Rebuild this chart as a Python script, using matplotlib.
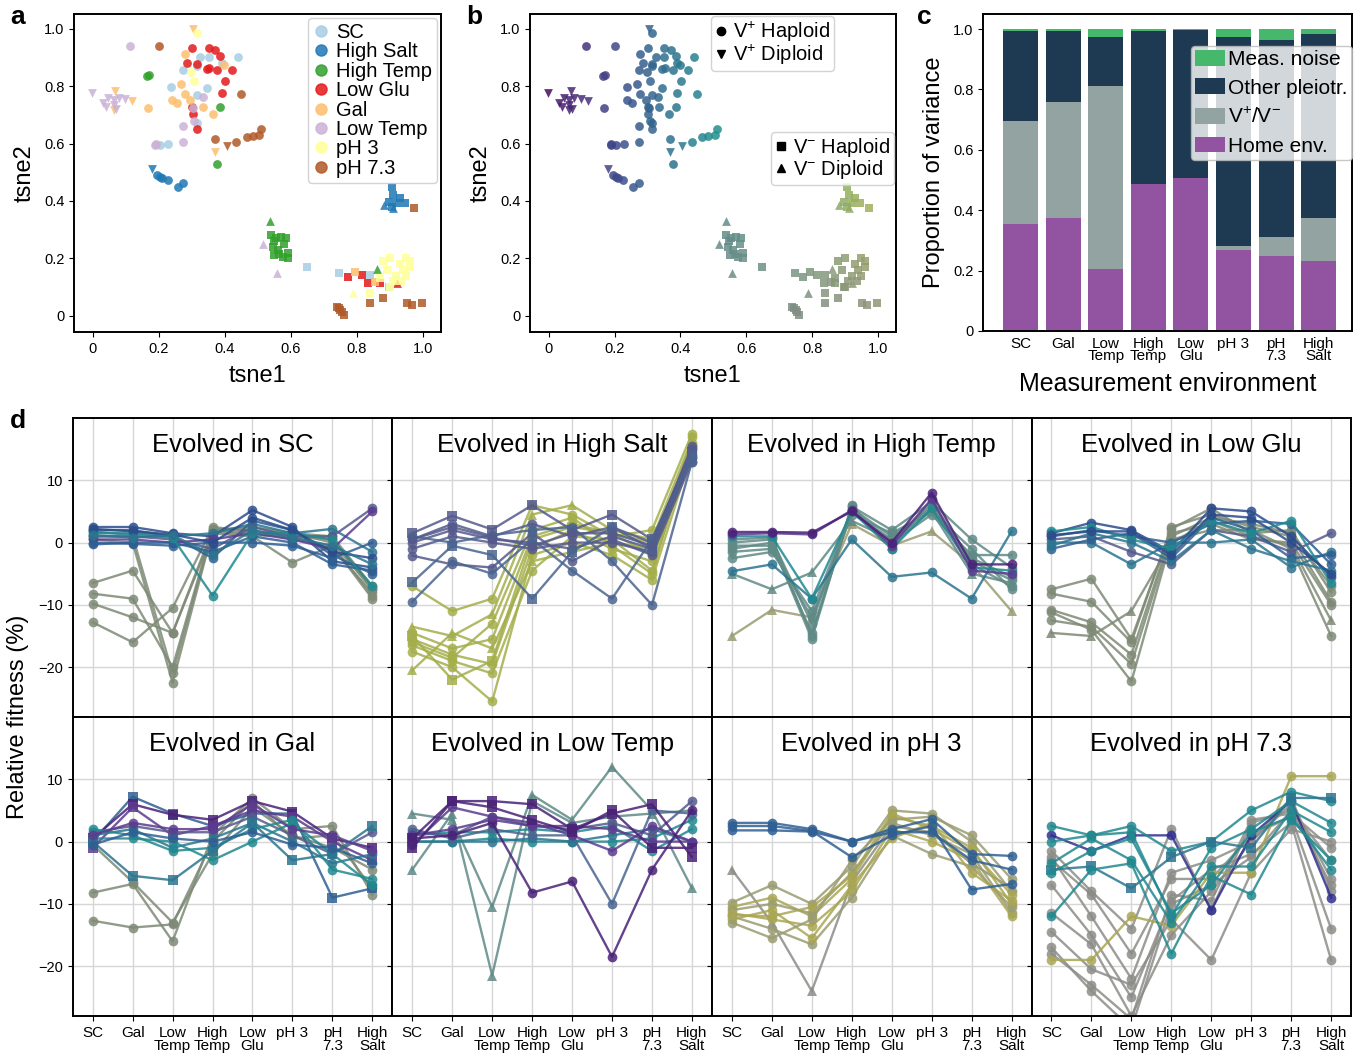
import numpy as np
import matplotlib
matplotlib.use('Agg')
import matplotlib.pyplot as plt
from matplotlib.lines import Line2D

plt.rcParams['font.family'] = ['Liberation Sans', 'DejaVu Sans']
plt.rcParams['mathtext.fontset'] = 'custom'
plt.rcParams['mathtext.rm'] = 'Liberation Sans'
plt.rcParams['mathtext.it'] = 'Liberation Sans:italic'
plt.rcParams['axes.linewidth'] = 1.4
plt.rcParams['xtick.labelsize'] = 10.5
plt.rcParams['ytick.labelsize'] = 10.5

# ---- t-SNE embedding (panels a, b) ----
# kind: A = V+ haploid, B = V+ diploid, C = V- haploid, D = V- diploid
env_names = ['SC', 'High Salt', 'High Temp', 'Low Glu', 'Gal', 'Low Temp', 'pH 3', 'pH 7.3']

sc_t1 = [0.441, 0.325, 0.351, 0.273, 0.237, 0.315, 0.345, 0.204, 0.229, 0.315, 0.315, 0.39,
         0.648, 0.747, 0.840, 0.897]
sc_t2 = [0.903, 0.901, 0.903, 0.857, 0.797, 0.770, 0.793, 0.595, 0.598, 0.671, 0.870, 0.88,
         0.171, 0.150, 0.142, 0.101]
sc_kind = 'AAAAAAAAAAAACCCC'

salt_t1 = [0.194, 0.205, 0.227, 0.257, 0.273, 0.21, 0.18,
           0.906, 0.911, 0.896, 0.921, 0.946, 0.906, 0.93, 0.881, 0.911]
salt_t2 = [0.491, 0.485, 0.473, 0.45, 0.464, 0.48, 0.51,
           0.45, 0.421, 0.398, 0.392, 0.392, 0.38, 0.41, 0.386, 0.374]
salt_kind = 'AAAAAABCCCCCCCDD'

htemp_t1 = [0.164, 0.170, 0.386, 0.376,
            0.54, 0.555, 0.57, 0.585, 0.545, 0.56, 0.58, 0.59, 0.55, 0.575, 0.59, 0.565, 0.548,
            0.537, 0.861]
htemp_t2 = [0.837, 0.840, 0.726, 0.528,
            0.28, 0.27, 0.275, 0.27, 0.24, 0.23, 0.25, 0.22, 0.21, 0.205, 0.2, 0.215, 0.26,
            0.331, 0.162]
htemp_kind = 'AAAACCCCCCCCCCCCCDD'

lglu_t1 = [0.3, 0.351, 0.371, 0.386, 0.285, 0.315, 0.345, 0.376, 0.423, 0.402, 0.391, 0.3,
           0.303, 0.315, 0.352, 0.773, 0.815, 0.835, 0.871, 0.921]
lglu_t2 = [0.933, 0.933, 0.927, 0.906, 0.88, 0.878, 0.86, 0.855, 0.855, 0.819, 0.776, 0.729,
           0.703, 0.65, 0.864, 0.134, 0.142, 0.113, 0.115, 0.113]
lglu_kind = 'AAAAAAAAAAAAAAACCCCD'

gal_t1 = [0.278, 0.398, 0.268, 0.278, 0.239, 0.254, 0.295, 0.335, 0.364, 0.167,
          0.305, 0.068, 0.063, 0.118, 0.369, 0.795, 0.856]
gal_t2 = [0.913, 0.874, 0.807, 0.772, 0.752, 0.741, 0.752, 0.729, 0.703, 0.723,
          1.0, 0.785, 0.717, 0.747, 0.572, 0.151, 0.119]
gal_kind = 'AAAAAAAAAABBBBBCC'

ltemp_t1 = [0.113, 0.333, 0.273, 0.305, 0.308, 0.273, 0.188, 0.19,
            -0.003, 0.032, 0.047, 0.063, 0.078, 0.098, 0.04, 0.063, 0.07, 0.517, 0.558]
ltemp_t2 = [0.942, 0.764, 0.662, 0.723, 0.680, 0.607, 0.595, 0.60,
            0.776, 0.741, 0.758, 0.752, 0.758, 0.755, 0.729, 0.735, 0.72, 0.249, 0.15]
ltemp_kind = 'AAAAAAAABBBBBBBBBDD'

ph3_t1 = [0.315, 0.298, 0.308,
          0.88, 0.9, 0.93, 0.95, 0.96, 0.89, 0.92, 0.94, 0.95, 0.91, 0.935, 0.96, 0.84, 0.9, 0.87,
          0.787]
ph3_t2 = [0.985, 0.851, 0.819,
          0.19, 0.2, 0.18, 0.2, 0.19, 0.16, 0.14, 0.16, 0.14, 0.12, 0.12, 0.17, 0.08, 0.1, 0.13,
          0.078]
ph3_kind = 'AAACCCCCCCCCCCCCCCD'

ph73_t1 = [0.202, 0.449, 0.369, 0.434, 0.467, 0.485, 0.505, 0.51, 0.406,
           0.972, 0.739, 0.75, 0.76, 0.755, 0.84, 0.879, 0.952, 0.967, 0.997, 0.745]
ph73_t2 = [0.941, 0.773, 0.615, 0.605, 0.624, 0.626, 0.63, 0.65, 0.59,
           0.374, 0.031, 0.02, 0.002, 0.012, 0.043, 0.06, 0.045, 0.037, 0.043, 0.025]
ph73_kind = 'AAAAAAAABCCCCCCCCCCC'

tsne_sets = [(sc_t1, sc_t2, sc_kind), (salt_t1, salt_t2, salt_kind),
             (htemp_t1, htemp_t2, htemp_kind), (lglu_t1, lglu_t2, lglu_kind),
             (gal_t1, gal_t2, gal_kind), (ltemp_t1, ltemp_t2, ltemp_kind),
             (ph3_t1, ph3_t2, ph3_kind), (ph73_t1, ph73_t2, ph73_kind)]

env_colors = ['#a6cee3', '#1f78b4', '#33a02c', '#e31a1c', '#fdbf6f', '#cab2d6', '#ffff99', '#b15928']
kind_marker = {'A': 'o', 'B': 'v', 'C': 's', 'D': '^'}

# ---- variance partition (panel c) ----
meas_envs = ['SC', 'Gal', 'Low\nTemp', 'High\nTemp', 'Low\nGlu', 'pH 3', 'pH\n7.3', 'High\nSalt']
var_home = [0.355, 0.373, 0.205, 0.487, 0.507, 0.268, 0.250, 0.232]
var_vpm = [0.340, 0.387, 0.605, 0.0, 0.0, 0.015, 0.060, 0.141]
var_other = [0.298, 0.233, 0.165, 0.506, 0.491, 0.692, 0.653, 0.610]
var_noise = [0.007, 0.007, 0.025, 0.007, 0.002, 0.025, 0.037, 0.017]

# ---- relative fitness across measurement environments (panel d) ----
evo_sc = [[-6.5, -4.5, -14.5, 2.0, 1.5, 1.0, -1.0, -8.0],
          [-8.2, -9.0, -20.0, 2.2, 2.0, 0.5, -0.5, -8.5],
          [-9.8, -12.0, -14.5, 1.5, 1.0, -3.2, -0.5, -9.0],
          [-12.8, -16.0, -10.5, 2.5, 1.8, 1.5, 0.0, -7.5],
          [0.5, 0.0, -22.5, 1.8, 1.2, 1.0, 0.5, -7.5],
          [1.0, 1.0, -21.0, 2.0, 2.5, 1.5, 1.0, -7.0],
          [2.5, 2.5, 1.5, 1.0, 5.2, 2.5, -3.0, -4.0],
          [2.0, 2.0, 1.0, -2.5, 3.5, 2.0, -2.0, -5.0],
          [1.5, 1.5, 1.0, 1.5, 3.0, 1.5, 2.2, -1.5],
          [1.0, 1.0, 0.5, -1.0, 2.5, 1.0, 1.0, 5.5],
          [0.5, 0.5, 0.0, 0.5, 1.5, 0.5, -1.0, 5.0],
          [-0.3, 0.0, 0.0, -1.5, 1.0, 0.0, -3.5, -4.5],
          [0.0, -0.2, -0.5, 0.0, 0.0, -0.5, -2.5, 0.0],
          [1.8, 1.2, 0.8, -8.5, 1.5, 1.5, 0.5, -7.0],
          [2.2, 1.8, 1.3, 0.0, 4.0, 2.0, -1.5, -2.5],
          [1.2, 0.8, 1.2, -2.0, 2.0, 0.8, -0.5, -3.5]]
evo_sc_col = ['gg', 'gg', 'gg', 'gg', 'gg', 'gg', 'db', 'bl', 'tb', 'sl', 'pv', 'bl', 'bl', 'te', 'db', 'tb']
evo_sc_mk = 'oooooooooooooooo'

evo_salt = [[-7.0, -11.0, -9.0, 6.0, 4.5, 1.0, 2.0, 17.5],
            [-13.5, -15.0, -11.5, 4.5, 6.0, 2.0, 0.5, 16.5],
            [-14.5, -17.0, -15.5, 1.0, 3.0, 1.5, -2.0, 16.0],
            [-15.5, -18.0, -19.5, -1.0, 2.0, -1.0, -3.0, 15.0],
            [-16.5, -19.0, -21.0, -4.5, 1.0, 0.5, -4.5, 15.5],
            [-17.5, -20.0, -25.5, -2.0, 0.0, -2.0, -6.0, 14.5],
            [-20.5, -14.5, -17.0, -3.0, -1.5, 0.0, -1.0, 16.0],
            [-15.0, -22.0, -19.0, 0.5, 2.5, 1.5, 0.0, 15.0],
            [-16.0, -18.5, -13.0, 2.0, 4.0, -0.5, -5.0, 17.0],
            [1.5, 4.3, 2.1, 6.0, 2.0, 4.5, 0.5, 14.5],
            [0.5, 3.0, 1.0, 3.0, 1.0, 2.5, 0.0, 15.0],
            [0.0, 2.0, 0.5, 0.0, -1.0, 1.0, -1.0, 13.5],
            [-1.0, 1.0, 0.0, -1.0, 0.0, 0.0, -1.5, 14.0],
            [-2.1, -3.5, -4.0, 1.5, -3.0, 0.5, -2.0, 13.0],
            [-6.4, -0.5, -2.0, -9.0, -1.5, 2.5, -1.0, 14.5],
            [-9.5, -3.0, -5.0, 0.5, -4.5, -9.0, 0.5, 13.8],
            [1.0, 0.0, 1.2, 2.0, 2.5, -3.0, -10.0, 13.0],
            [0.5, 2.5, 0.8, -0.5, 1.5, 1.5, -0.5, 15.5]]
evo_salt_col = ['ol'] * 9 + ['sl', 'sl', 'sl', 'sl', 'sl', 'bs', 'bs', 'bs', 'sl']
evo_salt_mk = 'o^oooo^sosoooosooo'

evo_htemp = [[-15.0, -10.8, -12.0, 3.0, -0.5, 1.8, -3.5, -11.0],
             [-5.0, -7.5, -4.8, 3.5, 0.5, 5.0, -5.0, -6.5],
             [0.0, 0.5, -13.0, 5.5, 1.0, 5.5, -2.5, -5.5],
             [-0.5, -0.5, -14.5, 5.0, 0.5, 6.0, -3.0, -6.0],
             [-1.0, 0.0, -15.5, 5.8, 2.0, 6.5, 0.5, -4.0],
             [-1.5, -1.0, -12.0, 4.5, 1.5, 5.0, -1.0, -7.5],
             [-2.5, -1.5, -11.0, 5.2, 0.0, 4.5, -2.0, -2.0],
             [0.5, 0.8, -15.0, 6.0, -1.0, 6.8, -3.5, -7.0],
             [-4.6, -3.5, -9.0, 0.5, -5.5, -4.8, -9.0, 1.8],
             [1.0, 1.0, -9.0, 5.0, -1.0, 5.5, -4.0, -4.5],
             [1.3, 1.5, 1.3, 5.2, -0.5, 7.0, -4.5, -5.0],
             [1.7, 1.7, 1.6, 5.0, 0.0, 8.0, -3.5, -3.5]]
evo_htemp_col = ['og', 'gt', 'gt', 'gt', 'gt', 'gt', 'gt', 'gt', 'tb', 'te', 'pv', 'pu']
evo_htemp_mk = '^^oooooooooo'

evo_lglu = [[-7.5, -5.8, -15.5, 2.2, 5.5, 1.5, 2.0, -8.0],
            [-8.2, -9.5, -16.0, 2.5, 4.5, 2.5, 1.0, -9.5],
            [-10.8, -12.8, -18.0, 1.5, 3.0, 0.5, 0.0, -10.0],
            [-11.2, -14.0, -22.3, 0.5, 2.0, 2.0, -1.0, -15.0],
            [-14.5, -15.0, -11.0, 0.0, 3.5, 1.0, -0.5, -12.5],
            [-12.5, -13.5, -19.5, 1.0, 4.0, 3.0, 1.5, -7.0],
            [1.5, 3.2, 2.0, -1.5, 5.5, 5.0, 1.0, -5.5],
            [1.0, 2.0, 1.0, 0.0, 3.0, 3.5, 3.0, -3.5],
            [0.5, 1.0, -1.5, -3.5, 2.0, 1.0, -1.5, 1.5],
            [0.0, 0.0, -3.5, 0.0, 0.0, 0.5, -4.0, -1.5],
            [-1.0, 0.5, 1.5, -2.5, 4.0, 2.0, -2.5, -2.0],
            [1.8, 2.5, 0.5, -1.0, 3.5, 1.5, 3.5, -6.5],
            [-0.5, 1.5, 0.0, -3.0, 2.0, -1.0, -3.0, -4.5],
            [1.2, 1.8, 1.8, -2.0, 4.5, 4.0, 0.0, -5.0]]
evo_lglu_col = ['gg'] * 6 + ['db', 'bl', 'sl', 'tb', 'bl', 'te', 'tb', 'db']
evo_lglu_mk = 'oooo^ooooooooo'

evo_gal = [[-8.2, -6.8, -16.0, 1.0, 7.0, 2.0, 2.5, -8.5],
           [-12.7, -13.8, -13.3, 0.0, 6.5, 0.5, 1.0, -7.5],
           [-0.5, -6.5, -13.0, -2.0, 5.5, 1.0, -1.0, -4.5],
           [0.0, 7.2, 4.5, 2.5, 4.5, 4.5, -9.0, -7.5],
           [0.5, 6.0, 4.3, 3.5, 6.5, 4.8, 0.5, -1.0],
           [-1.0, 5.5, 1.0, 2.5, 5.0, 4.0, 0.0, -3.0],
           [1.5, 2.5, 1.5, 1.5, 4.0, 1.0, -2.0, 1.5],
           [1.0, 2.0, -1.0, 0.5, 3.0, 0.0, -3.5, -2.0],
           [2.0, 1.0, -1.5, -1.0, 2.0, 3.5, -4.5, -6.0],
           [0.5, 0.5, 0.0, -3.0, 0.0, 3.0, -2.0, -7.0],
           [0.0, -5.5, -6.2, -1.5, 3.0, -3.0, -2.0, 2.5],
           [-0.5, 1.5, 0.5, 0.0, 1.5, -0.5, -1.0, -3.5],
           [1.0, 3.0, 2.0, 2.0, 6.0, 2.0, 1.0, -1.5]]
evo_gal_col = ['gg', 'gg', 'gg', 'bl', 'pu', 'pv', 'sl', 'tb', 'te', 'te', 'tb', 'bl', 'pv']
evo_gal_mk = 'ooosssoooosoo'

evo_ltemp = [[4.5, 3.5, -10.5, 7.5, 3.5, 12.0, 5.0, -7.5],
             [-4.5, 4.5, -21.5, 6.5, 3.0, 4.0, 4.5, 5.0],
             [0.0, 0.0, 0.5, 0.0, 0.0, 0.0, 0.5, 3.5],
             [1.0, 1.5, 1.5, 2.0, 1.5, 2.5, -1.5, 2.0],
             [0.0, 0.0, 0.0, 0.5, 0.0, 1.0, 2.0, 0.0],
             [1.5, 1.0, 4.0, 2.5, 2.0, 3.0, 1.0, 6.5],
             [2.0, 0.5, 2.0, 1.0, 1.0, -10.0, 5.0, 4.5],
             [1.0, 2.0, 3.5, 2.5, 2.5, 2.0, 0.0, 0.0],
             [0.5, 1.0, 3.0, -8.2, -6.4, -18.5, -4.5, 5.0],
             [-0.5, 5.5, 4.0, 3.0, 1.0, -1.5, 2.5, 0.0],
             [0.5, 6.5, 5.5, 3.5, 1.5, 5.0, -1.0, -1.0],
             [-1.0, 6.5, 6.5, 6.0, 2.0, 4.5, 6.0, -2.5]]
evo_ltemp_col = ['gt', 'gt', 'te', 'te', 'tb', 'sl', 'bs', 'pv', 'pu', 'pv', 'pu', 'pu']
evo_ltemp_mk = '^^ooooooooss'

evo_ph3 = [[-4.5, -13.0, -24.0, -6.5, 2.5, 1.5, -3.5, -7.5],
           [-9.8, -7.0, -10.0, -4.0, 5.0, 4.5, 0.0, -8.0],
           [-10.5, -9.0, -12.0, -6.0, 4.0, 2.5, -1.0, -10.0],
           [-11.0, -10.0, -11.5, -5.0, 3.0, 1.0, -2.0, -11.5],
           [-11.5, -12.5, -13.5, -8.0, 2.0, 0.0, -3.0, -12.0],
           [-12.0, -14.0, -16.5, -9.0, 1.0, -2.0, -4.0, -10.5],
           [-12.5, -11.0, -15.5, -7.0, 0.5, 3.0, -5.0, -9.5],
           [-13.0, -15.5, -12.5, -3.0, 3.5, 4.0, 1.0, -6.0],
           [-11.8, -12.0, -10.5, -5.5, 4.5, 2.0, -1.5, -8.5],
           [3.0, 3.0, 2.0, 0.0, 2.0, 3.6, -2.0, -2.3],
           [2.5, 2.5, 1.7, -2.5, 1.0, 2.5, -7.7, -6.8],
           [1.8, 1.8, 1.6, 0.0, 1.5, 1.5, -3.0, -4.5]]
evo_ph3_col = ['gr', 'og', 'oy', 'og', 'oy', 'og', 'oy', 'og', 'oy', 'bl', 'bl', 'bl']
evo_ph3_mk = '^ooooooooooo'

evo_ph73 = [[-1.5, -8.0, -14.0, 2.0, -11.0, 3.0, 5.0, -7.0],
            [-3.0, -8.5, -18.0, -6.0, -6.0, 1.0, 4.0, -14.0],
            [-7.0, -15.0, -25.0, -9.5, -4.5, -2.0, 3.0, -19.0],
            [-11.5, -16.5, -28.0, -15.0, -8.0, 0.0, 6.0, -6.0],
            [-14.5, -20.5, -23.0, -12.5, -19.0, -5.0, 2.0, 0.0],
            [-17.0, -24.0, -30.0, -10.0, -7.0, -2.5, 5.0, -3.0],
            [-18.0, -23.0, -28.5, -8.5, -9.5, 3.5, 4.5, -1.0],
            [-2.5, -12.0, -22.0, -5.0, -3.0, 0.0, 7.0, -8.0],
            [-19.0, -19.0, -12.0, -13.5, -5.0, -5.0, 10.5, 10.5],
            [1.0, -1.5, 1.0, 1.0, -11.0, 1.0, 6.5, -9.0],
            [2.5, 1.0, 2.5, -1.5, 0.0, 5.0, 8.0, 6.5],
            [0.0, 1.0, 1.5, -12.0, -1.0, 2.0, 6.5, 3.0],
            [-4.5, -4.0, -7.5, -2.5, 0.0, -1.0, 7.0, 7.0],
            [-12.0, -4.5, -3.5, -18.0, -5.5, -8.5, 3.5, -3.0],
            [-3.5, 0.5, -3.0, -13.0, -4.0, -4.0, 5.0, 1.5],
            [-5.0, -1.5, 0.5, -11.5, -7.0, 1.5, 4.0, -4.5]]
evo_ph73_col = ['gr'] * 8 + ['oy', 'nv', 'te', 'te', 'tb', 'te', 'te', 'te']
evo_ph73_mk = 'oooooooooooosooo'

palette = {'pu': '#4a2278', 'pv': '#5b3c8f', 'sl': '#555a8c', 'bs': '#4a6590',
           'bl': '#2f5f93', 'db': '#2b4c8c', 'tb': '#2d7590', 'te': '#21898f',
           'gt': '#5f8a86', 'gg': '#7e8a76', 'ol': '#a4ae4a', 'oy': '#a9a654',
           'og': '#9a9c72', 'gr': '#8c8c88', 'nv': '#302f90'}

# ---------------------------------------------------------------
W, H = 1358, 1055
fig = plt.figure(figsize=(W / 100, H / 100), dpi=100)


def px_axes(left, top, right, bottom):
    return fig.add_axes([left / W, 1 - bottom / H, (right - left) / W, (bottom - top) / H])


def unit_fmt(v, _):
    return '0' if abs(v) < 1e-9 else '%.1f' % v


def tsne_axes(ax):
    ax.set_xlim(-0.057, 1.055)
    ax.set_ylim(-0.057, 1.052)
    ticks = [0, 0.2, 0.4, 0.6, 0.8, 1.0]
    ax.set_xticks(ticks)
    ax.set_yticks(ticks)
    ax.xaxis.set_major_formatter(plt.FuncFormatter(unit_fmt))
    ax.yaxis.set_major_formatter(plt.FuncFormatter(unit_fmt))
    ax.set_xlabel('tsne1', fontsize=17, labelpad=7)
    ax.set_ylabel('tsne2', fontsize=17, labelpad=6)


# panel a: coloured by environment
ax_a = px_axes(74, 14, 441, 332)
for (t1, t2, kinds), col in zip(tsne_sets, env_colors):
    t1, t2, kinds = np.array(t1), np.array(t2), np.array(list(kinds))
    for k, m in kind_marker.items():
        sel = kinds == k
        if sel.any():
            ax_a.scatter(t1[sel], t2[sel], s=40, marker=m, color=col, alpha=0.85, lw=0)
tsne_axes(ax_a)
handles = [Line2D([], [], ls='', marker='o', ms=8, color=c, alpha=0.85) for c in env_colors]
ax_a.legend(handles, env_names, loc='upper right', fontsize=14.5, handlelength=0.8,
            handletextpad=0.35, labelspacing=0.02, borderpad=0.25, borderaxespad=0.2,
            framealpha=0.85, edgecolor='#cccccc')


# panel b: coloured along the embedding, greyed for V- lineages
def embed_color(x, y, kind):
    base = np.array(plt.cm.viridis(np.clip(0.04 + 0.9 * x, 0, 1))[:3])
    if kind in 'AB':
        return base
    w = np.clip(0.9 - 0.9 * y, 0.45, 0.95)
    return (1 - w) * base + w * np.array([0.53, 0.53, 0.53])


ax_b = px_axes(530, 14, 896, 332)
for t1, t2, kinds in tsne_sets:
    for x, y, k in zip(t1, t2, kinds):
        ax_b.scatter([x], [y], s=40, marker=kind_marker[k], color=[embed_color(x, y, k)],
                     alpha=0.85, lw=0)
tsne_axes(ax_b)
h_plus = [Line2D([], [], ls='', marker='o', ms=6, color='k'),
          Line2D([], [], ls='', marker='v', ms=6, color='k')]
leg1 = ax_b.legend(h_plus, ['V$^{+}$ Haploid', 'V$^{+}$ Diploid'], loc='upper right',
                   bbox_to_anchor=(0.83, 0.995), fontsize=14.5, handlelength=0.6,
                   handletextpad=0.3, labelspacing=-0.05, borderpad=0.2, borderaxespad=0,
                   framealpha=0.85, edgecolor='#cccccc')
ax_b.add_artist(leg1)
h_minus = [Line2D([], [], ls='', marker='s', ms=6, color='k'),
           Line2D([], [], ls='', marker='^', ms=6, color='k')]
ax_b.legend(h_minus, ['V$^{-}$ Haploid', 'V$^{-}$ Diploid'], loc='upper right',
            bbox_to_anchor=(0.995, 0.63), fontsize=14.5, handlelength=0.6,
            handletextpad=0.3, labelspacing=-0.05, borderpad=0.2, borderaxespad=0,
            framealpha=0.85, edgecolor='#cccccc')

# panel c: stacked variance components
ax_c = px_axes(983, 14, 1352, 331)
xc = np.arange(len(meas_envs))
comp = [(var_home, '#9253a1', 'Home env.'), (var_vpm, '#93a3a2', 'V$^{+}$/V$^{-}$'),
        (var_other, '#1e3a52', 'Other pleiotr.'), (var_noise, '#45b86b', 'Meas. noise')]
bottom = np.zeros(len(meas_envs))
bars = []
for vals, col, lab in comp:
    b = ax_c.bar(xc, vals, bottom=bottom, width=0.82, color=col, label=lab)
    bars.append(b)
    bottom += np.array(vals)
ax_c.set_xlim(-0.88, 7.78)
ax_c.set_ylim(0, 1.05)
ax_c.set_yticks([0, 0.2, 0.4, 0.6, 0.8, 1.0])
ax_c.yaxis.set_major_formatter(plt.FuncFormatter(unit_fmt))
ax_c.set_xticks(xc)
ax_c.set_xticklabels(meas_envs, linespacing=0.9, fontsize=11)
ax_c.tick_params(axis='x', length=0, pad=4)
ax_c.set_ylabel('Proportion of variance', fontsize=17, labelpad=6)
ax_c.set_xlabel('Measurement environment', fontsize=18, labelpad=6)
ax_c.legend(bars[::-1], [c[2] for c in comp][::-1], loc='upper right', bbox_to_anchor=(1.0, 0.9),
            borderaxespad=0, fontsize=15, handlelength=1.45, handleheight=0.8,
            handletextpad=0.15, labelspacing=0.45, borderpad=0.2, framealpha=0.8,
            facecolor='white', edgecolor='#bbbbbb', fancybox=True)

# panel d: 2 x 4 grid of fitness profiles
panels_d = [(evo_sc, evo_sc_col, evo_sc_mk, 'SC'),
            (evo_salt, evo_salt_col, evo_salt_mk, 'High Salt'),
            (evo_htemp, evo_htemp_col, evo_htemp_mk, 'High Temp'),
            (evo_lglu, evo_lglu_col, evo_lglu_mk, 'Low Glu'),
            (evo_gal, evo_gal_col, evo_gal_mk, 'Gal'),
            (evo_ltemp, evo_ltemp_col, evo_ltemp_mk, 'Low Temp'),
            (evo_ph3, evo_ph3_col, evo_ph3_mk, 'pH 3'),
            (evo_ph73, evo_ph73_col, evo_ph73_mk, 'pH 7.3')]
xd = np.arange(8)
col_w, row_h = 319.6, 299.0
for i, (rows, cols, mks, name) in enumerate(panels_d):
    r, k = divmod(i, 4)
    left = 72.7 + k * col_w
    top = 418 + r * row_h
    ax = px_axes(left, top, left + col_w, top + row_h)
    ax.set_axisbelow(True)
    ax.grid(color='#d6d6d6', lw=1.0)
    for vals, c, m in zip(rows, cols, mks):
        ax.plot(xd, vals, color=palette[c], marker=m, ms=7, lw=1.7, alpha=0.85, mew=0)
    ax.set_xlim(-0.5, 7.5)
    ax.set_ylim(-28, 20)
    ax.set_yticks([10, 0, -10, -20])
    ax.set_xticks(xd)
    ax.text(0.5, 0.91, 'Evolved in ' + name, transform=ax.transAxes, ha='center', va='center',
            fontsize=18.5)
    if k > 0:
        ax.tick_params(axis='y', labelleft=False)
    if r == 0:
        ax.tick_params(axis='x', labelbottom=False)
    else:
        ax.set_xticklabels(meas_envs, linespacing=0.9, fontsize=11)

fig.text(18 / W, 1 - 717 / H, 'Relative fitness (%)', rotation=90, ha='center', va='center',
         fontsize=17)

for lab, x, y in [('a', 10, 5), ('b', 466, 5), ('c', 917, 5), ('d', 10, 409)]:
    fig.text(x / W, 1 - y / H, lab, fontsize=19, fontweight='bold', ha='left', va='top')

fig.savefig('out.png', dpi=100)
